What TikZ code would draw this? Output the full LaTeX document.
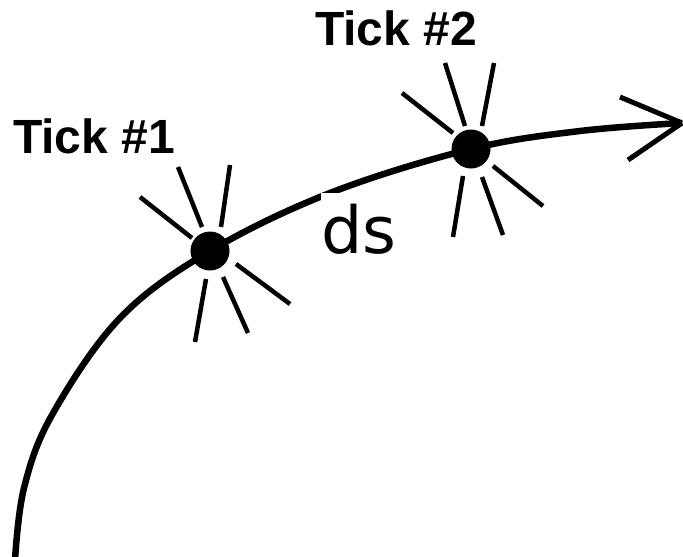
\documentclass[tikz,border=0pt]{standalone}
\usepackage{fontspec}
\setmainfont{Liberation Sans}
\newfontfamily\dsfont{DejaVu Sans}
\begin{document}
\begin{tikzpicture}[x=1pt,y=-1pt,
  curve/.style={line width=6.5pt},
  ray/.style={line width=4.5pt},
  dot/.style={circle,fill=black,inner sep=0pt,minimum size=39pt},
  ticklabel/.style={font=\fontsize{48}{48}\selectfont\bfseries,inner sep=0pt,anchor=base},
  dslabel/.style={font=\dsfont\fontsize{65}{65}\selectfont,fill=white,inner sep=0pt,anchor=base west}]
\useasboundingbox (0,0) rectangle (683,557);
\coordinate (start) at (14,560);
\coordinate (tip) at (682,123);
\node[dot] (t1) at (210,251) {};
\node[dot] (t2) at (471,149) {};
\draw[curve] plot[smooth,tension=0.6] coordinates {(15,560) (24,488) (52,415) (120,318) (210,251) (330,193) (471,149) (580,131) (682,123)};
% ds label with white background cutting the curve
\node[dslabel,text depth=6pt,text height=60pt,minimum width=70pt] (ds) at (321,253) {ds};
% arrow head
\draw[ray,line width=5pt] (tip) -- (620,97);
\draw[ray,line width=5pt] (tip) -- (628,160);
% rays tick 1
\begin{scope}[shift={(t1.center)}]
\draw[ray] (-70,-54) -- (-18,-13);
\draw[ray] (-32,-84) -- (-8,-24);
\draw[ray] (20,-86) -- (11,-24);
\draw[ray] (26,13) -- (80,53);
\draw[ray] (13,26) -- (38,82);
\draw[ray] (-4,28) -- (-15,91);
\end{scope}
\begin{scope}[shift={(t2.center)}]
\draw[ray] (-69,-56) -- (-18,-16);
\draw[ray] (-26,-86) -- (-6,-23);
\draw[ray] (23,-86) -- (11,-23);
\draw[ray] (22,17) -- (72,57);
\draw[ray] (11,28) -- (32,86);
\draw[ray] (-8,27) -- (-18,88);
\end{scope}
\node[ticklabel] (l1) at (94,153) {Tick \#1};
\node[ticklabel] (l2) at (396,45) {Tick \#2};
\end{tikzpicture}
\end{document}
